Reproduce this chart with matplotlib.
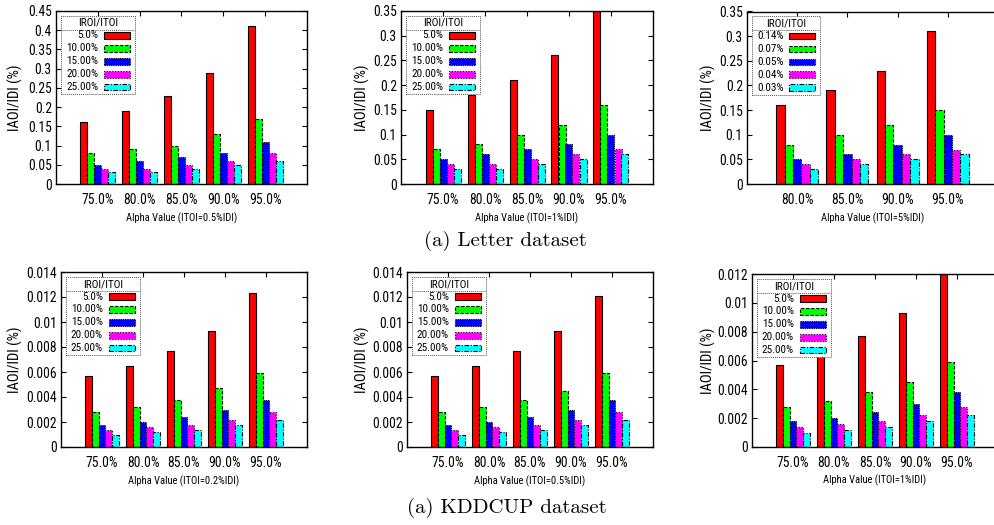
import matplotlib
matplotlib.use('Agg')
import matplotlib.pyplot as plt
from matplotlib import font_manager
from matplotlib.patches import Rectangle
from matplotlib.lines import Line2D
from matplotlib.ticker import FuncFormatter, MultipleLocator

W, H = 994, 525

# pick a narrow sans font if one is installed (gnuplot look), else Liberation Sans
_names = {f.name for f in font_manager.fontManager.ttflist}
_narrow = None
for cand in ['Liberation Sans Narrow', 'Roboto Condensed', 'Open Sans Condensed',
             'Noto Sans Condensed', 'DejaVu Sans Condensed']:
    if cand in _names:
        _narrow = cand
        break
if _narrow is not None:
    plt.rcParams['font.family'] = [_narrow, 'Liberation Sans', 'DejaVu Sans']
    TICK_FS, LEG_FS, XLAB_FS, YLAB_FS = 9.8, 8.0, 7.6, 10.5
else:
    plt.rcParams['font.family'] = ['Liberation Sans', 'DejaVu Sans']
    TICK_FS, LEG_FS, XLAB_FS, YLAB_FS = 7.5, 6.8, 6.8, 8.5
plt.rcParams['font.size'] = TICK_FS

# ---------------- data ----------------
alpha_five = ['75.0%', '80.0%', '85.0%', '90.0%', '95.0%']
alpha_four = ['80.0%', '85.0%', '90.0%', '95.0%']
ratio_labels = ['5.0%', '10.00%', '15.00%', '20.00%', '25.00%']
ratio_labels_itoi5 = ['0.14%', '0.07%', '0.05%', '0.04%', '0.03%']

# rows = series (IROI/ITOI), columns = alpha categories
letter_itoi05 = [[0.16, 0.19, 0.23, 0.29, 0.41],
                 [0.08, 0.09, 0.10, 0.13, 0.17],
                 [0.05, 0.06, 0.07, 0.08, 0.11],
                 [0.04, 0.04, 0.05, 0.06, 0.08],
                 [0.03, 0.03, 0.04, 0.05, 0.06]]
letter_itoi1 = [[0.15, 0.18, 0.21, 0.26, 0.36],
                [0.07, 0.08, 0.10, 0.12, 0.16],
                [0.05, 0.06, 0.07, 0.08, 0.10],
                [0.04, 0.04, 0.05, 0.06, 0.07],
                [0.03, 0.03, 0.04, 0.05, 0.06]]
letter_itoi5 = [[0.16, 0.19, 0.23, 0.31],
                [0.08, 0.10, 0.12, 0.15],
                [0.05, 0.06, 0.08, 0.10],
                [0.04, 0.05, 0.06, 0.07],
                [0.03, 0.04, 0.05, 0.06]]
kdd_itoi02 = [[0.0057, 0.0065, 0.0077, 0.0093, 0.0123],
              [0.0028, 0.0032, 0.0038, 0.0047, 0.0059],
              [0.0018, 0.0020, 0.0024, 0.0030, 0.0038],
              [0.0014, 0.0016, 0.0018, 0.0022, 0.0028],
              [0.0010, 0.0012, 0.0014, 0.0018, 0.0022]]
kdd_itoi05 = [[0.0057, 0.0065, 0.0077, 0.0093, 0.0121],
              [0.0028, 0.0032, 0.0038, 0.0045, 0.0059],
              [0.0018, 0.0020, 0.0024, 0.0030, 0.0038],
              [0.0014, 0.0016, 0.0018, 0.0022, 0.0028],
              [0.0010, 0.0012, 0.0014, 0.0018, 0.0022]]
kdd_itoi1 = [[0.0057, 0.0065, 0.0077, 0.0093, 0.0121],
             [0.0028, 0.0032, 0.0038, 0.0045, 0.0059],
             [0.0018, 0.0020, 0.0024, 0.0030, 0.0038],
             [0.0014, 0.0016, 0.0018, 0.0022, 0.0028],
             [0.0010, 0.0012, 0.0014, 0.0018, 0.0022]]

# ---------------- styles ----------------
series_colors = ['#ff0000', '#00ff00', '#0000ff', '#ff00ff', '#00ffff']
series_ls = ['-', (0, (3, 1.5)), (0, (1, 1)), (0, (1, 1.5)), (0, (4, 1.5, 1, 1.5))]

fig = plt.figure(figsize=(W / 100, H / 100), dpi=100)

panels = [
    dict(box=(56, 11, 307, 184), cats=alpha_five, labels=ratio_labels, data=letter_itoi05,
         ymax=0.45, ystep=0.05, xlabel='Alpha Value (ITOI=0.5%IDI)', ylab_x=15, xlab_y=218, leg_w=74),
    dict(box=(401, 11, 653, 184), cats=alpha_five, labels=ratio_labels, data=letter_itoi1,
         ymax=0.35, ystep=0.05, xlabel='Alpha Value (ITOI=1%IDI)', ylab_x=362, xlab_y=218, leg_w=74),
    dict(box=(747, 11.5, 998, 184), cats=alpha_four, labels=ratio_labels_itoi5, data=letter_itoi5,
         ymax=0.35, ystep=0.05, xlabel='Alpha Value (ITOI=5%IDI)', ylab_x=708, xlab_y=218, leg_w=68),
    dict(box=(61, 272, 307, 447), cats=alpha_five, labels=ratio_labels, data=kdd_itoi02,
         ymax=0.014, ystep=0.002, xlabel='Alpha Value (ITOI=0.2%IDI)', ylab_x=15, xlab_y=481.5, leg_w=73.5),
    dict(box=(407, 272, 653, 447), cats=alpha_five, labels=ratio_labels, data=kdd_itoi05,
         ymax=0.014, ystep=0.002, xlabel='Alpha Value (ITOI=0.5%IDI)', ylab_x=362, xlab_y=481, leg_w=73.5),
    dict(box=(752, 274, 998, 447), cats=alpha_five, labels=ratio_labels, data=kdd_itoi1,
         ymax=0.012, ystep=0.002, xlabel='Alpha Value (ITOI=1%IDI)', ylab_x=708, xlab_y=480, leg_w=73.5),
]


def draw_legend(ax, box, labels, lw_px):
    l, t, r, b = box
    aw, ah = r - l, b - t

    def P(x, y):
        return (x / aw, 1 - y / ah)

    x0, y0, h = 5, 5, 78
    rx, ry = P(x0, y0 + h)
    ax.add_patch(Rectangle((rx, ry), lw_px / aw, h / ah, transform=ax.transAxes,
                           facecolor='white', edgecolor='#555555', linestyle=(0, (1, 1)),
                           linewidth=0.7, zorder=5, clip_on=False))
    tx, ty = P(x0 + lw_px / 2, y0 + 7)
    ax.text(tx, ty, 'IROI/ITOI', transform=ax.transAxes, ha='center', va='center',
            zorder=6, fontsize=LEG_FS)
    sx0, sy = P(x0, y0 + 13.5)
    sx1, _ = P(x0 + lw_px, y0 + 13.5)
    ax.add_line(Line2D([sx0, sx1], [sy, sy], transform=ax.transAxes, color='#555555',
                       linestyle=(0, (1, 1)), linewidth=0.7, zorder=6, clip_on=False))
    for i, lab in enumerate(labels):
        yc = y0 + 19.5 + 12.9 * i
        lx, ly = P(x0 + lw_px - 36.5, yc)
        ax.text(lx, ly, lab, transform=ax.transAxes, ha='right', va='center', zorder=6,
                fontsize=LEG_FS)
        px0, py0 = P(x0 + lw_px - 31, yc + 3.3)
        ax.add_patch(Rectangle((px0, py0), 26 / aw, 6.6 / ah, transform=ax.transAxes,
                               facecolor=series_colors[i], edgecolor='black',
                               linestyle=series_ls[i], linewidth=0.8, zorder=6, clip_on=False))


for p in panels:
    l, t, r, b = p['box']
    ax = fig.add_axes([l / W, 1 - b / H, (r - l) / W, (b - t) / H])
    n = len(p['cats'])
    bw = 1.0 / 6
    for j, vals in enumerate(p['data']):
        xs = [i + (j - 2) * bw for i in range(n)]
        ax.bar(xs, vals, width=bw, color=series_colors[j], edgecolor='black',
               linestyle=series_ls[j], linewidth=0.8, zorder=2)
    ax.set_xlim(-1, n)
    ax.set_ylim(0, p['ymax'])
    ax.set_xticks(range(n))
    ax.set_xticklabels(p['cats'])
    ax.yaxis.set_major_locator(MultipleLocator(p['ystep']))
    ax.yaxis.set_major_formatter(FuncFormatter(lambda v, pos: '%g' % round(v, 6)))
    clipped_right = r > W - 2
    ax.tick_params(direction='in', length=3.4, width=0.8, top=True, right=not clipped_right,
                   labelsize=TICK_FS)
    ax.tick_params(axis='x', pad=6.5)
    ax.tick_params(axis='y', pad=3)
    ax.set_axisbelow(True)
    for s in ax.spines.values():
        s.set_linewidth(1.0)
    aw, ah = r - l, b - t
    ax.set_xlabel(p['xlabel'], va='center', fontsize=XLAB_FS)
    ax.xaxis.set_label_coords(0.5, (b - p['xlab_y']) / ah)
    ax.set_ylabel('IAOI/IDI (%)', va='center', fontsize=YLAB_FS)
    ax.yaxis.set_label_coords((p['ylab_x'] - l) / aw, 0.5)
    draw_legend(ax, p['box'], p['labels'], p['leg_w'])

fig.text(505 / W, 1 - 241 / H, '(a) Letter dataset', family='cmr10', size=15,
         ha='center', va='center')
fig.text(507 / W, 1 - 508 / H, '(a) KDDCUP dataset', family='cmr10', size=15,
         ha='center', va='center')

fig.savefig('out.png', dpi=100)
